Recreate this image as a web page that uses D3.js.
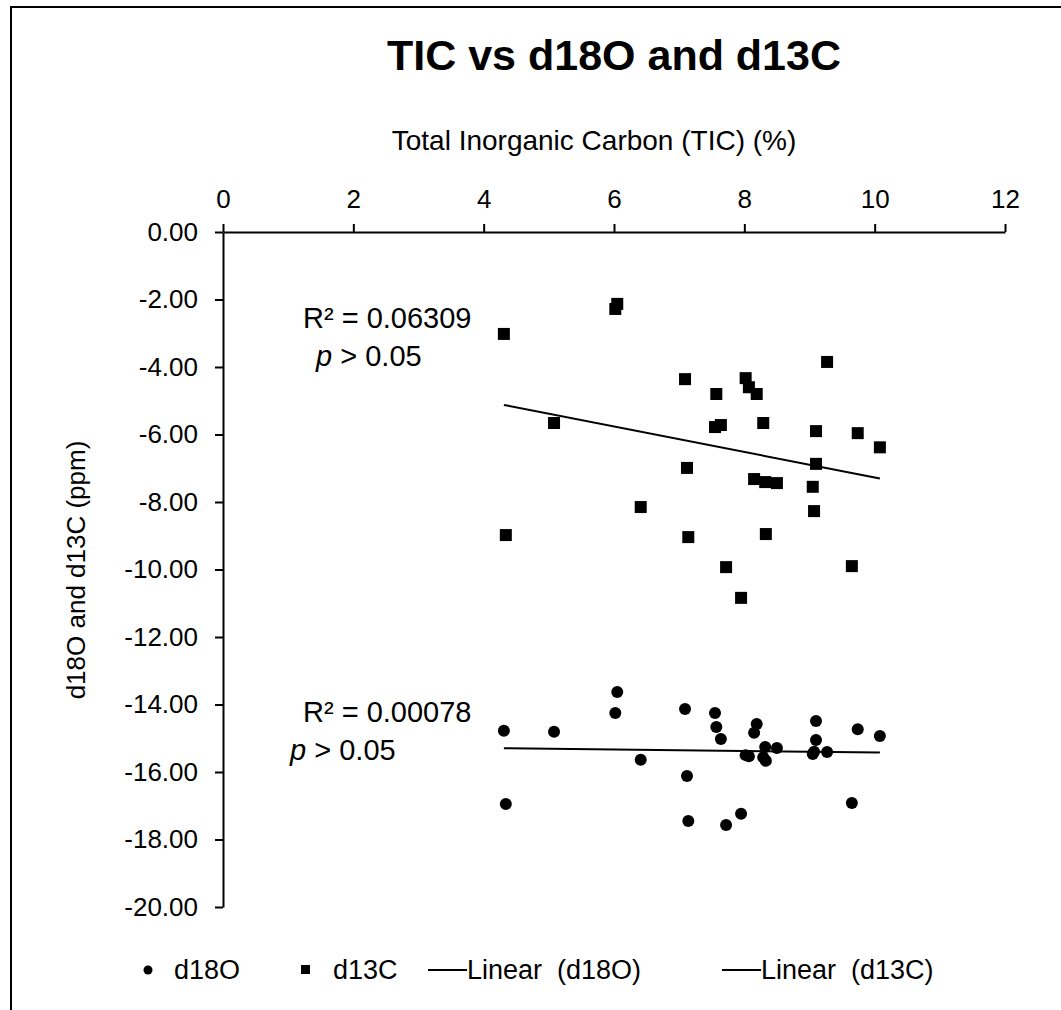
<!DOCTYPE html>
<html>
<head>
<meta charset="utf-8">
<script src="https://cdn.jsdelivr.net/npm/d3@7"></script>
<style>
  body { margin: 0; background: #fff; }
  text { font-family: "Liberation Sans", Arial, sans-serif; fill: #000; }
</style>
</head>
<body>
<div id="chart"></div>
<script>
// sample data
var tic = [4.31, 6.05, 6.02, 7.09, 8.02, 8.07, 8.19, 7.57, 5.08, 8.29,
           7.55, 7.64, 7.12, 8.15, 8.32, 8.50, 6.41, 4.34, 7.14, 8.33,
           7.72, 7.95, 9.27, 9.10, 9.74, 10.08, 9.10, 9.05, 9.07, 9.65];
var d13C = [-3.02, -2.13, -2.28, -4.36, -4.33, -4.60, -4.80, -4.80, -5.66, -5.66,
            -5.78, -5.72, -6.99, -7.32, -7.41, -7.44, -8.15, -8.98, -9.04, -8.95,
            -9.93, -10.84, -3.85, -5.90, -5.96, -6.38, -6.87, -7.55, -8.27, -9.90];
var d18O = [-14.78, -13.63, -14.25, -14.13, -15.50, -15.53, -14.58, -14.67, -14.81, -15.56,
            -14.25, -15.02, -16.12, -14.84, -15.26, -15.29, -15.64, -16.95, -17.45, -15.67,
            -17.57, -17.24, -15.41, -14.49, -14.73, -14.93, -15.05, -15.47, -15.40, -16.92];

var xTicks = [0, 2, 4, 6, 8, 10, 12];
var yTicks = [0, -2, -4, -6, -8, -10, -12, -14, -16, -18, -20];

var svgWidth = 1061;
var svgHeight = 1010;

var svg = d3.select("#chart")
    .append("svg")
    .attr("width", svgWidth)
    .attr("height", svgHeight);

// chart border
svg.append("rect")
    .attr("x", 11)
    .attr("y", 7)
    .attr("width", 1070)
    .attr("height", 1020)
    .attr("fill", "none")
    .attr("stroke", "#000")
    .attr("stroke-width", 2);

// scales
var xScale = d3.scaleLinear().domain([0, 12]).range([223, 1005]);
var yScale = d3.scaleLinear().domain([0, -20]).range([232, 907]);

// axes
var topAxis = d3.axisTop(xScale)
    .tickValues(xTicks)
    .tickFormat(d3.format("d"))
    .tickSize(8)
    .tickSizeOuter(0)
    .tickPadding(16);

var leftAxis = d3.axisLeft(yScale)
    .tickValues(yTicks)
    .tickFormat(d => d3.format(".2f")(d).replace("\u2212", "-"))
    .tickSize(8)
    .tickSizeOuter(0)
    .tickPadding(17);

var xAxisG = svg.append("g")
    .attr("transform", `translate(0, ${yScale(0)})`)
    .call(topAxis);

var yAxisG = svg.append("g")
    .attr("transform", `translate(${xScale(0)}, 0)`)
    .call(leftAxis);

[xAxisG, yAxisG].forEach(function(g) {
    g.select(".domain").attr("stroke", "#000").attr("stroke-width", 2);
    g.selectAll(".tick line").attr("stroke", "#000").attr("stroke-width", 2);
    g.selectAll(".tick text")
        .attr("font-size", 26)
        .attr("font-family", "Liberation Sans, Arial, sans-serif")
        .attr("fill", "#000");
});

// title and axis labels
svg.append("text")
    .attr("x", 614)
    .attr("y", 70)
    .attr("text-anchor", "middle")
    .attr("font-size", 43)
    .attr("font-weight", "bold")
    .text("TIC vs d18O and d13C");

svg.append("text")
    .attr("x", 594)
    .attr("y", 150)
    .attr("text-anchor", "middle")
    .attr("font-size", 28)
    .text("Total Inorganic Carbon (TIC) (%)");

svg.append("text")
    .attr("transform", "translate(85, 570) rotate(-90)")
    .attr("text-anchor", "middle")
    .attr("font-size", 26)
    .text("d18O and d13C (ppm)");

// linear regression
function linearFit(xs, ys) {
    var mx = d3.mean(xs), my = d3.mean(ys);
    var sxy = d3.sum(xs, (x, i) => (x - mx) * (ys[i] - my));
    var sxx = d3.sum(xs, x => (x - mx) * (x - mx));
    var slope = sxy / sxx;
    return { slope: slope, intercept: my - slope * mx };
}

var xExtent = d3.extent(tic);

[d18O, d13C].forEach(function(series) {
    var fit = linearFit(tic, series);
    svg.append("line")
        .attr("x1", xScale(xExtent[0]))
        .attr("y1", yScale(fit.slope * xExtent[0] + fit.intercept))
        .attr("x2", xScale(xExtent[1]))
        .attr("y2", yScale(fit.slope * xExtent[1] + fit.intercept))
        .attr("stroke", "#000")
        .attr("stroke-width", 2);
});

// d13C squares
svg.selectAll(".sq")
    .data(tic)
    .enter()
    .append("rect")
    .attr("class", "sq")
    .attr("x", (d, i) => xScale(d) - 6)
    .attr("y", (d, i) => yScale(d13C[i]) - 6)
    .attr("width", 12)
    .attr("height", 12)
    .attr("fill", "#000");

// d18O circles
svg.selectAll(".dot")
    .data(tic)
    .enter()
    .append("circle")
    .attr("class", "dot")
    .attr("cx", d => xScale(d))
    .attr("cy", (d, i) => yScale(d18O[i]))
    .attr("r", 6)
    .attr("fill", "#000");

// R² annotations
function annotate(x, y, r2, px, py) {
    svg.append("text")
        .attr("x", x)
        .attr("y", y)
        .attr("font-size", 29)
        .text("R² = " + r2);
    var t = svg.append("text")
        .attr("x", px)
        .attr("y", py)
        .attr("font-size", 29);
    t.append("tspan").attr("font-style", "italic").text("p");
    t.append("tspan").text(" > 0.05");
}
annotate(303, 328, "0.06309", 316, 366);
annotate(303, 722, "0.00078", 290, 760);

// legend
var legend = svg.append("g").attr("transform", "translate(0, 970)");
legend.append("circle").attr("cx", 148).attr("cy", 0).attr("r", 4.5).attr("fill", "#000");
legend.append("text").attr("x", 174).attr("y", 9).attr("font-size", 27).text("d18O");
legend.append("rect").attr("x", 301).attr("y", -5).attr("width", 9).attr("height", 9).attr("fill", "#000");
legend.append("text").attr("x", 333).attr("y", 9).attr("font-size", 27).text("d13C");
legend.append("line").attr("x1", 428).attr("x2", 467).attr("y1", 0).attr("y2", 0).attr("stroke", "#000").attr("stroke-width", 2);
legend.append("text").attr("x", 467).attr("y", 9).attr("font-size", 27).attr("xml:space", "preserve").text("Linear  (d18O)");
legend.append("line").attr("x1", 722).attr("x2", 761).attr("y1", 0).attr("y2", 0).attr("stroke", "#000").attr("stroke-width", 2);
legend.append("text").attr("x", 761).attr("y", 9).attr("font-size", 27).attr("xml:space", "preserve").text("Linear  (d13C)");
</script>
</body>
</html>
